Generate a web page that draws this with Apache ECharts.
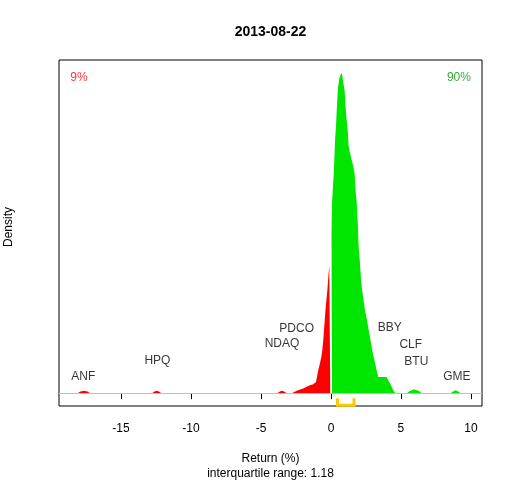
<!DOCTYPE html>
<html>
<head>
<meta charset="utf-8">
<script src="https://cdn.jsdelivr.net/npm/echarts@6/dist/echarts.min.js"></script>
<style>
  html, body { margin: 0; padding: 0; background: #ffffff; }
  #chart { width: 512px; height: 480px; }
</style>
</head>
<body>
<div id="chart"></div>
<script>
// density of returns, split at zero
const negX = [-18.1, -17.9, -17.65, -17.4, -17.2, -12.8, -12.6, -12.45, -12.3, -12.1,
  -3.85, -3.65, -3.5, -3.35, -3.15, -2.8, -2.71, -2.45, -2.21, -1.98, -1.74, -1.5,
  -1.26, -1.07, -0.91, -0.79, -0.69, -0.62, -0.55, -0.48, -0.41, -0.34, -0.26,
  -0.19, -0.12, -0.05];
const negY = [0, 0.002, 0.003, 0.002, 0, 0, 0.002, 0.003, 0.002, 0,
  0, 0.002, 0.003, 0.002, 0, 0, 0.0012, 0.0029, 0.0046, 0.0059, 0.0079, 0.0100,
  0.0112, 0.0141, 0.0287, 0.0370, 0.0452, 0.0536, 0.0660, 0.0826, 0.0997, 0.1138, 0.1283,
  0.1449, 0.1595, 0.1595];
const posX = [0.04, 0.07, 0.14, 0.21, 0.29, 0.36, 0.41, 0.5, 0.59, 0.74, 0.81, 0.88,
  0.98, 1.05, 1.12, 1.19, 1.26, 1.34, 1.41, 1.48, 1.55, 1.62, 1.69, 1.76, 1.84,
  1.91, 1.98, 2.07, 2.14, 2.21, 2.31, 2.43, 2.55, 2.66, 2.79, 2.91, 3.02, 3.14,
  3.26, 3.38, 3.98, 4.09, 4.21, 4.34, 4.45, 4.57, 4.62, 5.43, 5.6, 5.93, 6.25,
  6.5, 8.55, 8.72, 8.9, 9.1, 9.26];
const posY = [0.1994, 0.2368, 0.2567, 0.2779, 0.3153, 0.3340, 0.3526, 0.3813, 0.3925, 0.4000, 0.3963, 0.3875,
  0.3776, 0.3551, 0.3414, 0.3302, 0.3090, 0.3016, 0.2966, 0.2916, 0.2866, 0.2816, 0.2741, 0.2530, 0.2380,
  0.2143, 0.1819, 0.1632, 0.1445, 0.1308, 0.1184, 0.1034, 0.0935, 0.0822, 0.0698, 0.0573, 0.0474, 0.0386,
  0.0287, 0.0203, 0.0203, 0.0162, 0.0125, 0.0079, 0.0037, 0.0004, 0, 0, 0.0025, 0.005, 0.003,
  0, 0, 0.002, 0.0037, 0.002, 0];

// outlier names
const stockNames = ['ANF', 'HPQ', 'NDAQ', 'PDCO', 'BBY', 'CLF', 'BTU', 'GME'];
const stockX = [-17.7, -12.4, -3.5, -2.45, 4.2, 5.7, 6.1, 9.0];
const stockY = [0.020, 0.040, 0.062, 0.081, 0.082, 0.061, 0.039, 0.020];

const pctNeg = 9, pctPos = 90;
const quartiles = [0.47, 1.65];
const xTicks = [-15, -10, -5, 0, 5, 10];
const dateLabel = '2013-08-22';

const xMin = -19.43, xMax = 10.79;
const yTop = 0.40;
const yPad = yTop * 0.04;

const zip = (a, b) => a.map((v, i) => [v, b[i]]);
const iqr = (quartiles[1] - quartiles[0]).toFixed(2);
const font = 'Liberation Sans, Arial, sans-serif';

const chart = echarts.init(document.getElementById('chart'), null, { renderer: 'canvas' });

const plainLabel = {
  show: true, position: 'inside', formatter: '{b}',
  fontSize: 12, color: '#000', fontFamily: font,
  textBorderWidth: 0, textShadowBlur: 0
};

chart.setOption({
  animation: false,
  backgroundColor: '#ffffff',
  textStyle: { fontFamily: font },
  title: {
    text: dateLabel,
    left: 270.5,
    textAlign: 'center',
    top: 25,
    padding: 0,
    textStyle: { fontSize: 14, fontWeight: 'bold', color: '#000', fontFamily: font }
  },
  grid: {
    left: 59, right: 30, top: 60, bottom: 74,
    show: true, borderColor: '#000', borderWidth: 1,
    outerBoundsMode: 'none'
  },
  xAxis: {
    type: 'value',
    min: xMin, max: xMax,
    name: 'Return (%)\ninterquartile range: ' + iqr,
    nameLocation: 'middle',
    nameGap: 45,
    nameTextStyle: { fontSize: 12, color: '#000', lineHeight: 15, fontFamily: font },
    axisLine: { show: false },
    splitLine: { show: false },
    axisTick: { show: true, length: 6, lineStyle: { color: '#000' }, customValues: xTicks },
    axisLabel: { show: true, fontSize: 12, color: '#000', margin: 17, customValues: xTicks, fontFamily: font }
  },
  yAxis: {
    type: 'value',
    min: -yPad, max: yTop + yPad,
    axisLine: { show: false },
    axisTick: { show: false },
    axisLabel: { show: false },
    splitLine: { show: false }
  },
  graphic: [{
    type: 'text',
    x: 9, y: 227,
    rotation: Math.PI / 2,
    style: { text: 'Density', fontSize: 12, fill: '#000', align: 'center', verticalAlign: 'middle', fontFamily: font }
  }],
  series: [
    {
      type: 'line',
      data: zip(negX, negY),
      showSymbol: false,
      lineStyle: { width: 0 },
      areaStyle: { color: '#FF0000', opacity: 1 },
      silent: true,
      markLine: {
        silent: true,
        symbol: 'none',
        label: { show: false },
        lineStyle: { color: '#BEBEBE', width: 1, type: 'solid' },
        data: [{ yAxis: 0 }]
      }
    },
    {
      type: 'line',
      data: zip(posX, posY),
      showSymbol: false,
      lineStyle: { width: 0 },
      areaStyle: { color: '#00E600', opacity: 1 },
      silent: true
    },
    {
      type: 'line',
      data: [[quartiles[0], -yPad * 0.4], [quartiles[0], -yPad * 0.95],
             [quartiles[1], -yPad * 0.95], [quartiles[1], -yPad * 0.4]],
      showSymbol: false,
      lineStyle: { color: '#FFC800', width: 3, cap: 'butt', join: 'miter' },
      silent: true
    },
    {
      type: 'scatter',
      symbolSize: 0,
      data: stockNames.map((n, i) => ({ value: [stockX[i], stockY[i]], name: n })),
      label: plainLabel,
      silent: true
    },
    {
      type: 'scatter',
      symbolSize: 0,
      data: [
        { value: [-18.0, 0.394], name: pctNeg + '%', label: { color: '#FF0000' } },
        { value: [9.14, 0.394], name: pctPos + '%', label: { color: '#009A00' } }
      ],
      label: plainLabel,
      silent: true
    }
  ]
});
</script>
</body>
</html>
